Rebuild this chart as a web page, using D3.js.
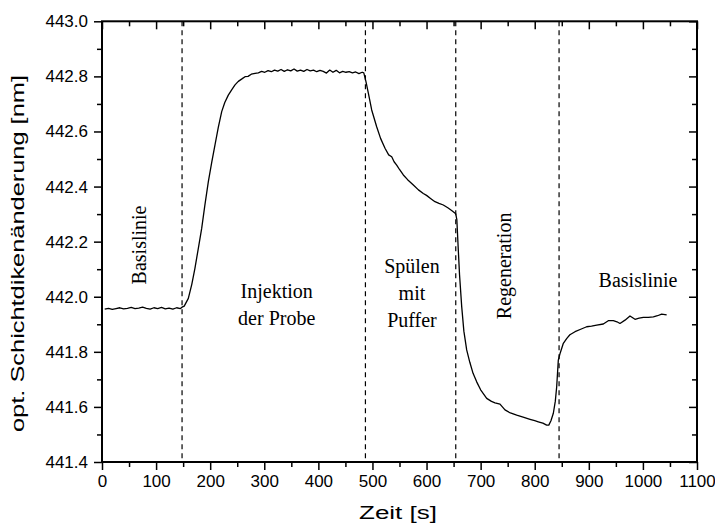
<!DOCTYPE html>
<html>
<head>
<meta charset="utf-8">
<script src="https://cdn.jsdelivr.net/npm/d3@7"></script>
<style>
  html, body { margin: 0; padding: 0; background: #fff; }
  svg { display: block; }
</style>
</head>
<body>
<svg id="chart" width="715" height="529"></svg>
<script>
// ---- data ----
const timeS = [
  5,12,19,26,33,40,47,54,61,68,75,82,89,96,103,110,117,124,131,138,145,148,
  152,159.6,166,171.8,178,184.3,190,196.6,203,208.9,215,221.3,227,233.5,240,245.9,252,258,264.4,270,276,283,
  289,295,301,307,313,319,325,331,337,343,349,355,361,367,373,379,385,391,397,403,409,415,421,427,433,439,445,451,457,463,469,475,481,484,
  488,492.4,498.6,507.8,515,523.2,530,535.6,540,544.8,550,557.1,565,575.6,585,594,600,608,615.6,623,631,640,647,654,
  656,658.7,661,665,669,674.2,680,686,692.7,700,711.2,720,726.6,735.8,745,755,766.7,780,791.3,800,806.6,815,822.1,826,830,834.4,838,840.6,843.6,847,852.9,859,865,874.5,885,896,905,914.6,926.8,936,945.3,952,957.6,966.9,976.1,985.4,993,1000.8,1010,1019.3,1027,1034.6,1043.9
];
const thickness = [
  441.955,441.958,441.954,441.957,441.960,441.956,441.958,441.961,441.957,441.959,441.962,441.958,441.955,441.960,441.957,441.961,441.956,441.959,441.955,441.960,441.957,441.962,
  441.966,441.994,442.045,442.103,442.175,442.248,442.33,442.418,442.49,442.551,442.615,442.672,442.705,442.732,442.752,442.769,442.782,442.79,442.799,442.80,442.808,442.811,
  442.813,442.818,442.815,442.821,442.817,442.823,442.819,442.825,442.818,442.824,442.820,442.827,442.819,442.823,442.818,442.825,442.82,442.823,442.817,442.822,442.818,442.812,442.823,442.815,442.822,442.813,442.818,442.815,442.817,442.813,442.816,442.81,442.815,442.813,
  442.781,442.739,442.678,442.617,442.575,442.539,442.515,442.508,442.49,442.478,442.462,442.442,442.425,442.406,442.388,442.375,442.368,442.356,442.345,442.339,442.333,442.322,442.312,442.301,
  442.28,442.170,442.08,441.964,441.875,441.807,441.762,441.722,441.691,441.662,441.631,441.62,441.615,441.610,441.589,441.578,441.570,441.562,441.555,441.55,441.546,441.541,441.534,441.534,441.55,441.577,441.62,441.673,441.770,441.795,441.831,441.848,441.862,441.873,441.882,441.891,441.893,441.897,441.901,441.913,441.913,441.909,441.903,441.915,441.930,441.918,441.922,441.925,441.925,441.927,441.931,441.937,441.934
];
const phaseBoundaries = [148, 487, 654, 845];
const xTicks = [0,100,200,300,400,500,600,700,800,900,1000,1100];
const xMinorTicks = [50,150,250,350,450,550,650,750,850,950,1050];
const yTicks = [441.4,441.6,441.8,442.0,442.2,442.4,442.6,442.8,443.0];
const yMinorTicks = [441.5,441.7,441.9,442.1,442.3,442.5,442.7,442.9];
const xDomain = [0, 1100];
const yDomain = [441.4, 443.0];
const xTitle = "Zeit [s]";
const yTitle = "opt. Schichtdikenänderung [nm]";
const phaseLabels = [
  {lines: ["Basislinie"], t: 82, v: 442.188, rotate: true},
  {lines: ["Injektion", "der Probe"], t: 323, v: 441.995, rotate: false},
  {lines: ["Spülen", "mit", "Puffer"], t: 573, v: 442.085, rotate: false},
  {lines: ["Regeneration"], t: 756, v: 442.112, rotate: true},
  {lines: ["Basislinie"], t: 991, v: 442.036, rotate: false}
];

// ---- layout ----
const L = 102, R = 697, T = 21.3, B = 462;
const svg = d3.select("#chart");
const x = d3.scaleLinear().domain(xDomain).range([L, R]);
const y = d3.scaleLinear().domain(yDomain).range([B, T]);

const sans = "'Liberation Sans', Arial, sans-serif";
const serif = "'Liberation Serif', 'Times New Roman', serif";

function styleAxis(g) {
  g.select(".domain").remove();
  g.selectAll("line").attr("stroke", "#000").attr("stroke-width", 1.5);
  g.selectAll("text").attr("font-family", sans).attr("font-size", 17).attr("fill", "#000");
}

// bottom
svg.append("g").attr("transform", `translate(0,${B})`)
  .call(d3.axisBottom(x).tickValues(xTicks).tickSize(8).tickPadding(5).tickFormat(d3.format("d")))
  .call(styleAxis);
svg.append("g").attr("transform", `translate(0,${B})`)
  .call(d3.axisBottom(x).tickValues(xMinorTicks).tickSize(5).tickFormat(""))
  .call(styleAxis);
// top (inward)
svg.append("g").attr("transform", `translate(0,${T})`)
  .call(d3.axisTop(x).tickValues(xTicks).tickSize(-8).tickFormat(""))
  .call(styleAxis);
svg.append("g").attr("transform", `translate(0,${T})`)
  .call(d3.axisTop(x).tickValues(xMinorTicks).tickSize(-5).tickFormat(""))
  .call(styleAxis);
// left
svg.append("g").attr("transform", `translate(${L},0)`)
  .call(d3.axisLeft(y).tickValues(yTicks).tickSize(8).tickPadding(6).tickFormat(d3.format(".1f")))
  .call(styleAxis);
svg.append("g").attr("transform", `translate(${L},0)`)
  .call(d3.axisLeft(y).tickValues(yMinorTicks).tickSize(5).tickFormat(""))
  .call(styleAxis);
// right (inward)
svg.append("g").attr("transform", `translate(${R},0)`)
  .call(d3.axisRight(y).tickValues(yTicks).tickSize(-8).tickFormat(""))
  .call(styleAxis);
svg.append("g").attr("transform", `translate(${R},0)`)
  .call(d3.axisRight(y).tickValues(yMinorTicks).tickSize(-5).tickFormat(""))
  .call(styleAxis);

// frame
svg.append("rect").attr("x", L).attr("y", T).attr("width", R - L).attr("height", B - T)
  .attr("fill", "none").attr("stroke", "#000").attr("stroke-width", 2);

// phase boundaries
svg.append("g").selectAll("line").data(phaseBoundaries).join("line")
  .attr("x1", d => x(d)).attr("x2", d => x(d))
  .attr("y1", T).attr("y2", B)
  .attr("stroke", "#000").attr("stroke-width", 1.2).attr("stroke-dasharray", "5,4");

// curve
const pts = timeS.map((t, i) => [t, thickness[i]]);
svg.append("path").datum(pts)
  .attr("fill", "none").attr("stroke", "#000").attr("stroke-width", 1.3)
  .attr("stroke-linejoin", "round")
  .attr("d", d3.line().x(d => x(d[0])).y(d => y(d[1])));

// phase labels
const lineH = 27;
phaseLabels.forEach(p => {
  const cx = x(p.t), cy = y(p.v);
  const g = svg.append("g").attr("transform", p.rotate ? `translate(${cx},${cy}) rotate(-90)` : `translate(${cx},${cy})`);
  p.lines.forEach((ln, i) => {
    g.append("text").attr("x", 0).attr("y", i * lineH)
      .attr("text-anchor", "middle")
      .attr("font-family", serif).attr("font-size", 20).attr("fill", "#000")
      .text(ln);
  });
});

// axis titles
svg.append("text").attr("x", 359).attr("y", 519)
  .attr("text-anchor", "start").attr("font-family", sans).attr("font-size", 18)
  .attr("textLength", 78).attr("lengthAdjust", "spacingAndGlyphs")
  .text(xTitle);
svg.append("text").attr("transform", `translate(24,432) rotate(-90)`)
  .attr("text-anchor", "start").attr("font-family", sans).attr("font-size", 18)
  .attr("textLength", 357).attr("lengthAdjust", "spacingAndGlyphs")
  .text(yTitle);
</script>
</body>
</html>
